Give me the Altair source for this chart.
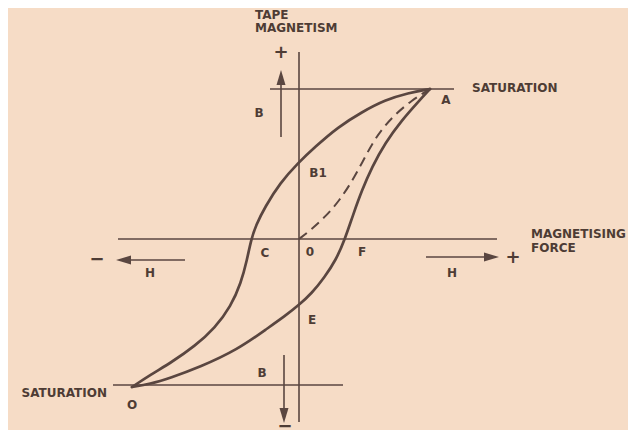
import altair as alt
import pandas as pd

# ---- hysteresis loop data (H = magnetising force, B = tape magnetism, arbitrary units)
upper_H = [13.1, 10.9, 8.6, 6.3, 3.9, 1.6, -0.1, -1.9, -3.4, -4.3, -4.8,
           -5.2, -5.8, -6.8, -8.4, -10.4, -12.7, -14.9, -16.7]
upper_B = [15.0, 14.6, 13.9, 12.7, 11.2, 9.2, 7.6, 5.6, 3.2, 1.4, -0.1,
           -2.1, -4.4, -6.7, -8.9, -10.7, -12.3, -13.6, -14.8]
lower_H = [-16.7, -14.9, -12.9, -9.9, -6.2, -3.1, -1.4, 0.0, 1.3, 2.5, 3.7, 4.6,
           5.4, 6.3, 7.3, 8.6, 10.3, 11.9, 13.1]
lower_B = [-14.8, -14.5, -13.9, -12.8, -11.1, -8.9, -7.7, -6.6, -5.4, -3.9, -2.1, 0.0,
           2.4, 4.9, 7.2, 9.6, 11.9, 13.7, 15.0]
virgin_H = [0.0, 1.3, 2.7, 4.0, 5.2, 6.3, 7.6, 9.3, 11.3, 13.1]
virgin_B = [0.0, 1.0, 2.3, 3.8, 5.6, 7.6, 10.1, 12.2, 13.9, 15.0]

# axis / saturation lines (start H, end H, start B, end B)
seg_H = [0.0, -18.1, -2.9, -18.6]
seg_H2 = [0.0, 19.8, 15.5, 4.4]
seg_B = [18.7, 0.0, 15.0, -14.6]
seg_B2 = [-18.3, 0.0, 15.0, -14.6]

# arrows: shaft from (H,B) to arrowhead centre (H2,B2), head direction angle
arr_H = [-1.8, -1.5, -11.4, 12.7]
arr_B = [10.2, -11.6, -2.1, -1.8]
arr_H2 = [-1.8, -1.5, -17.55, 19.25]
arr_B2 = [16.15, -17.65, -2.1, -1.8]
arr_ang = [0, 180, 270, 90]

# labels
left_text = ["TAPE", "MAGNETISM", "SATURATION", "MAGNETISING", "FORCE"]
left_H = [-4.4, -4.4, 17.3, 23.2, 23.2]
left_B = [22.4, 21.1, 15.1, 0.5, -0.9]

ctr_text = ["A", "B", "B1", "C", "0", "F", "H", "H", "E", "B", "O"]
ctr_H = [14.7, -4.0, 1.9, -3.4, 1.1, 6.3, -14.9, 15.3, 1.3, -3.7, -16.7]
ctr_B = [13.9, 12.6, 6.6, -1.4, -1.3, -1.3, -3.4, -3.4, -8.1, -13.4, -16.6]

right_text = ["SATURATION"]
right_H = [-19.2]
right_B = [-15.4]

sign_text = ["+", "+", "\u2212", "\u2212"]
sign_H = [-1.8, 21.4, -20.2, -1.4]
sign_B = [18.6, -1.9, -2.1, -18.75]

INK = "#5a4640"
TXT = "#4e3c35"
BG = "#f6dcc6"
FONT = "DejaVu Sans"

xs = alt.Scale(domain=[-29.1, 32.9], nice=False, zero=False)
ys = alt.Scale(domain=[-19.1, 23.1], nice=False, zero=False)


def X(f="H"):
    return alt.X(f"{f}:Q", scale=xs, axis=None)


def Y(f="B"):
    return alt.Y(f"{f}:Q", scale=ys, axis=None)


curves = pd.DataFrame(
    [{"series": "upper", "idx": i, "H": h, "B": b} for i, (h, b) in enumerate(zip(upper_H, upper_B))]
    + [{"series": "lower", "idx": i, "H": h, "B": b} for i, (h, b) in enumerate(zip(lower_H, lower_B))]
)
virgin = pd.DataFrame({"idx": range(len(virgin_H)), "H": virgin_H, "B": virgin_B})
segs = pd.DataFrame({"H": seg_H, "H2": seg_H2, "B": seg_B, "B2": seg_B2})
arrows = pd.DataFrame({"H": arr_H, "B": arr_B, "H2": arr_H2, "B2": arr_B2, "ang": arr_ang})
left_df = pd.DataFrame({"t": left_text, "H": left_H, "B": left_B})
ctr_df = pd.DataFrame({"t": ctr_text, "H": ctr_H, "B": ctr_B})
right_df = pd.DataFrame({"t": right_text, "H": right_H, "B": right_B})
sign_df = pd.DataFrame({"t": sign_text, "H": sign_H, "B": sign_B})

seg_layer = alt.Chart(segs).mark_rule(color=INK, strokeWidth=1.6).encode(
    x=X(), x2="H2:Q", y=Y(), y2="B2:Q")

curve_layer = alt.Chart(curves).mark_line(
    color=INK, strokeWidth=2.7, strokeCap="round", strokeJoin="round",
    interpolate="basis").encode(
    x=X(), y=Y(), detail="series:N", order="idx:Q")

virgin_layer = alt.Chart(virgin).mark_line(
    color=INK, strokeWidth=2.0, strokeDash=[10, 6], interpolate="basis").encode(
    x=X(), y=Y(), order="idx:Q")

shaft_layer = alt.Chart(arrows).mark_rule(color=INK, strokeWidth=1.6).encode(
    x=X(), x2="H2:Q", y=Y(), y2="B2:Q")

head_layer = alt.Chart(arrows).mark_point(
    shape="M0,-1L0.6,1L-0.6,1Z", filled=True, color=INK, opacity=1, size=225).encode(
    x=X("H2"), y=Y("B2"), angle=alt.Angle("ang:Q", scale=None))

text_style = dict(font=FONT, fontSize=12, fontWeight="bold", color=TXT, baseline="middle")
left_layer = alt.Chart(left_df).mark_text(align="left", **text_style).encode(
    x=X(), y=Y(), text="t:N")
ctr_layer = alt.Chart(ctr_df).mark_text(align="center", **text_style).encode(
    x=X(), y=Y(), text="t:N")
right_layer = alt.Chart(right_df).mark_text(align="right", **text_style).encode(
    x=X(), y=Y(), text="t:N")
sign_layer = alt.Chart(sign_df).mark_text(
    align="center", baseline="middle", font=FONT, fontSize=18, fontWeight="bold", color=TXT).encode(
    x=X(), y=Y(), text="t:N")

chart = alt.layer(
    seg_layer, curve_layer, virgin_layer, shaft_layer, head_layer,
    left_layer, ctr_layer, right_layer, sign_layer
).properties(
    width=620, height=422, background=BG, padding=0,
    autosize=alt.AutoSizeParams(type="none"),
).configure_view(stroke=None)

chart.save("out.html", embed_options={"renderer": "svg", "actions": False})
